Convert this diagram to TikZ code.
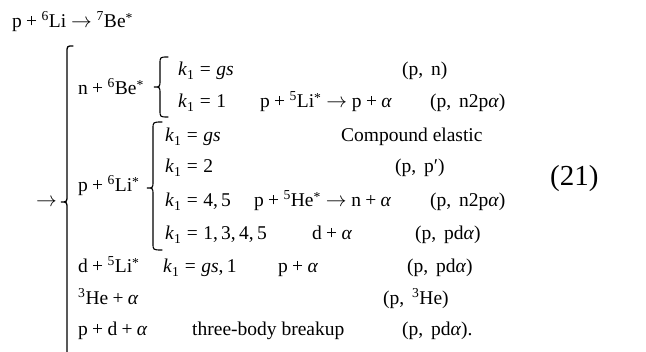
\documentclass[tikz,border=0pt]{standalone}
\usepackage{fontspec}
\setmainfont{Liberation Serif}
\usetikzlibrary{calc}

\newcommand{\ko}{\textit{k}\textsubscript{1}}
\newcommand{\al}{\textit{α}}
\newcommand{\ex}{\textsuperscript{\raisebox{-0.35ex}{*}}}
\newcommand{\iso}[1]{\textsuperscript{#1}}
\newcommand{\pl}{\hspace{0.22em}+\hspace{0.22em}}
\newcommand{\ar}{\hspace{0.25em}$\rightarrow$\hspace{0.25em}}
\newcommand{\eq}{\hspace{0.28em}=\hspace{0.28em}}
\newcommand{\rx}[1]{(p,\hspace{0.4em}#1)}

% vertical x, tip x, hook x, top y, mid y, bottom y
\newcommand{\drawbrace}[7][]{%
  \draw[brace,#1] (#4,#5) .. controls (#2,#5) .. (#2,#5+7) -- (#2,#6-7)
    .. controls (#2,#6) .. (#3,#6) .. controls (#2,#6) .. (#2,#6+7)
    -- (#2,#7-7) .. controls (#2,#7) .. (#4,#7);}

\tikzset{
  row/.style={anchor=base west, inner sep=0pt, font=\fontsize{19.5}{22}\selectfont},
  brace/.style={line width=1.1pt, line cap=round},
}

\begin{document}
\begin{tikzpicture}[x=1pt,y=-1pt]
  \useasboundingbox (0,0) rectangle (646,352);
  % reaction
  \node[row] (top) at (12,28) {p\pl\iso{6}Li\ar\iso{7}Be\ex};
  \node[row] (arr) at (36,207) {$\rightarrow$};
  \drawbrace[line width=1.3pt]{67}{61}{73}{46}{202}{360}
  % n channel
  \node[row] (nbe) at (78,95) {n\pl\iso{6}Be\ex};
  \drawbrace{160}{154}{168}{57}{87}{117}
  \node[row] (na) at (178,76) {\ko\eq\textit{gs}};
  \node[row] (nar) at (402,76) {\rx{n}};
  \node[row] (nb) at (178,108) {\ko\eq 1};
  \node[row] (nbd) at (260,108) {p\pl\iso{5}Li\ex\ar p\pl\al};
  \node[row] (nbr) at (430,108) {\rx{n2p\al}};
  % p channel
  \node[row] (pli) at (78,192) {p\pl\iso{6}Li\ex};
  \drawbrace{153}{147}{162}{122}{188}{250}
  \node[row] (pa) at (165,142) {\ko\eq\textit{gs}};
  \node[row] (pad) at (341,142) {Compound elastic};
  \node[row] (pb) at (165,173) {\ko\eq 2};
  \node[row] (pbr) at (395,173) {\rx{p′}};
  \node[row] (pc) at (165,207) {\ko\eq 4,\,5};
  \node[row] (pcd) at (254,207) {p\pl\iso{5}He\ex\ar n\pl\al};
  \node[row] (pcr) at (430,207) {\rx{n2p\al}};
  \node[row] (pd) at (165,240) {\ko\eq 1,\,3,\,4,\,5};
  \node[row] (pdd) at (312,240) {d\pl\al};
  \node[row] (pdr) at (415,240) {\rx{pd\al}};
  % other channels
  \node[row] (dli) at (78,273) {d\pl\iso{5}Li\ex};
  \node[row] (da) at (163,273) {\ko\eq\textit{gs},\,1};
  \node[row] (dad) at (278,273) {p\pl\al};
  \node[row] (dar) at (407,273) {\rx{pd\al}};
  \node[row] (he) at (78,305) {\iso{3}He\pl\al};
  \node[row] (her) at (383,305) {\rx{\iso{3}He}};
  \node[row] (pda) at (78,336) {p\pl d\pl\al};
  \node[row] (pdad) at (192,336) {three-body breakup};
  \node[row] (pdar) at (402,336) {\rx{pd\al}.};
  % equation number
  \node[row,font=\fontsize{29}{32}\selectfont] (eqn) at (550,186) {(21)};
\end{tikzpicture}
\end{document}
